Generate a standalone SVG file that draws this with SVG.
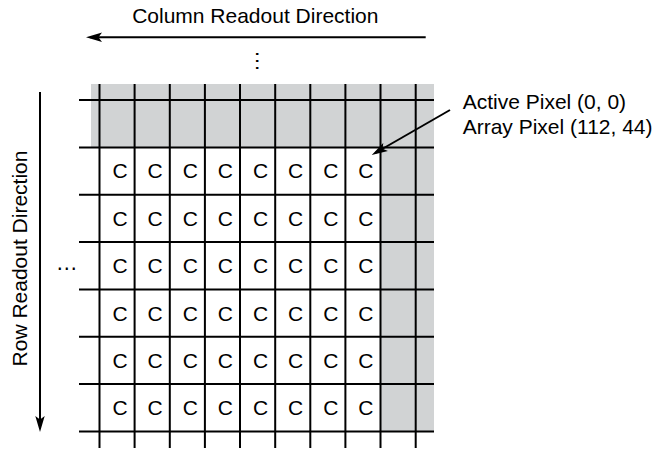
<svg xmlns="http://www.w3.org/2000/svg" width="655" height="449" viewBox="0 0 655 449">
<style>
.t{font-family:"Liberation Sans",Arial,sans-serif;font-size:21px;fill:#000}
.c{font-family:"Liberation Sans",Arial,sans-serif;font-size:21px;fill:#000;text-anchor:middle}
.dots{font-family:"Liberation Sans",Arial,sans-serif;font-size:22px;fill:#000;text-anchor:middle}
.g{stroke:#000;stroke-width:2;fill:none}
.a{stroke:#000;stroke-width:2;fill:none;marker-end:url(#ah)}
.shade{fill:#d1d3d4}
</style>
<defs>
<marker id="ah" viewBox="0 0 16 10" refX="12" refY="5" markerWidth="16" markerHeight="10" markerUnits="userSpaceOnUse" orient="auto">
<path d="M16,5 L0,0.3 L3.5,5 L0,9.7 Z" fill="#000"/>
</marker>
</defs>
<rect width="655" height="449" fill="#fff"/>
<g id="array">
<path class="shade" d="M91,84 H434 V431.5 H380.5 V147.4 H91 Z"/>
<g class="g">
<path d="M79,100 H434 M79,147.4 H434 M79,194.7 H434 M79,242.1 H434 M79,289.4 H434 M79,336.8 H434 M79,384.1 H434 M79,431.5 H434"/>
<path d="M99.5,84 V448 M134.6,84 V448 M169.8,84 V448 M204.9,84 V448 M240,84 V448 M275.2,84 V448 M310.3,84 V448 M345.4,84 V448 M380.5,84 V448 M415.7,84 V448"/>
</g>
</g>
<g id="pixels">
<g transform="translate(0,178.4)"><text class="c" x="120.1">C</text><text class="c" x="155.2">C</text><text class="c" x="190.3">C</text><text class="c" x="225.4">C</text><text class="c" x="260.6">C</text><text class="c" x="295.7">C</text><text class="c" x="330.8">C</text><text class="c" x="365.9">C</text></g>
<g transform="translate(0,225.8)"><text class="c" x="120.1">C</text><text class="c" x="155.2">C</text><text class="c" x="190.3">C</text><text class="c" x="225.4">C</text><text class="c" x="260.6">C</text><text class="c" x="295.7">C</text><text class="c" x="330.8">C</text><text class="c" x="365.9">C</text></g>
<g transform="translate(0,273.2)"><text class="c" x="120.1">C</text><text class="c" x="155.2">C</text><text class="c" x="190.3">C</text><text class="c" x="225.4">C</text><text class="c" x="260.6">C</text><text class="c" x="295.7">C</text><text class="c" x="330.8">C</text><text class="c" x="365.9">C</text></g>
<g transform="translate(0,320.5)"><text class="c" x="120.1">C</text><text class="c" x="155.2">C</text><text class="c" x="190.3">C</text><text class="c" x="225.4">C</text><text class="c" x="260.6">C</text><text class="c" x="295.7">C</text><text class="c" x="330.8">C</text><text class="c" x="365.9">C</text></g>
<g transform="translate(0,367.9)"><text class="c" x="120.1">C</text><text class="c" x="155.2">C</text><text class="c" x="190.3">C</text><text class="c" x="225.4">C</text><text class="c" x="260.6">C</text><text class="c" x="295.7">C</text><text class="c" x="330.8">C</text><text class="c" x="365.9">C</text></g>
<g transform="translate(0,415.2)"><text class="c" x="120.1">C</text><text class="c" x="155.2">C</text><text class="c" x="190.3">C</text><text class="c" x="225.4">C</text><text class="c" x="260.6">C</text><text class="c" x="295.7">C</text><text class="c" x="330.8">C</text><text class="c" x="365.9">C</text></g>
</g>
<g id="ellipses">
<text class="dots" x="66.7" y="270.1">…</text>
<text class="dots" transform="translate(257.3,61) rotate(90)" x="0" y="1.1">…</text>
</g>
<g id="col-label"><text class="t" x="255.3" y="22.7" text-anchor="middle">Column Readout Direction</text></g>
<g id="row-label"><text class="t" transform="translate(26.7,258.5) rotate(-90)" x="0" y="0" text-anchor="middle">Row Readout Direction</text></g>
<g id="pixel-label">
<text class="t" x="462.7" y="109.3">Active Pixel (0, 0)</text>
<text class="t" x="462.7" y="134.3">Array Pixel (112, 44)</text>
</g>
<g id="connectors">
<line class="a" x1="425.7" y1="37.3" x2="90" y2="37.3"/>
<line class="a" x1="40" y1="92" x2="40" y2="428"/>
<line class="a" x1="450" y1="110" x2="375.2" y2="153"/>
</g>
</svg>
